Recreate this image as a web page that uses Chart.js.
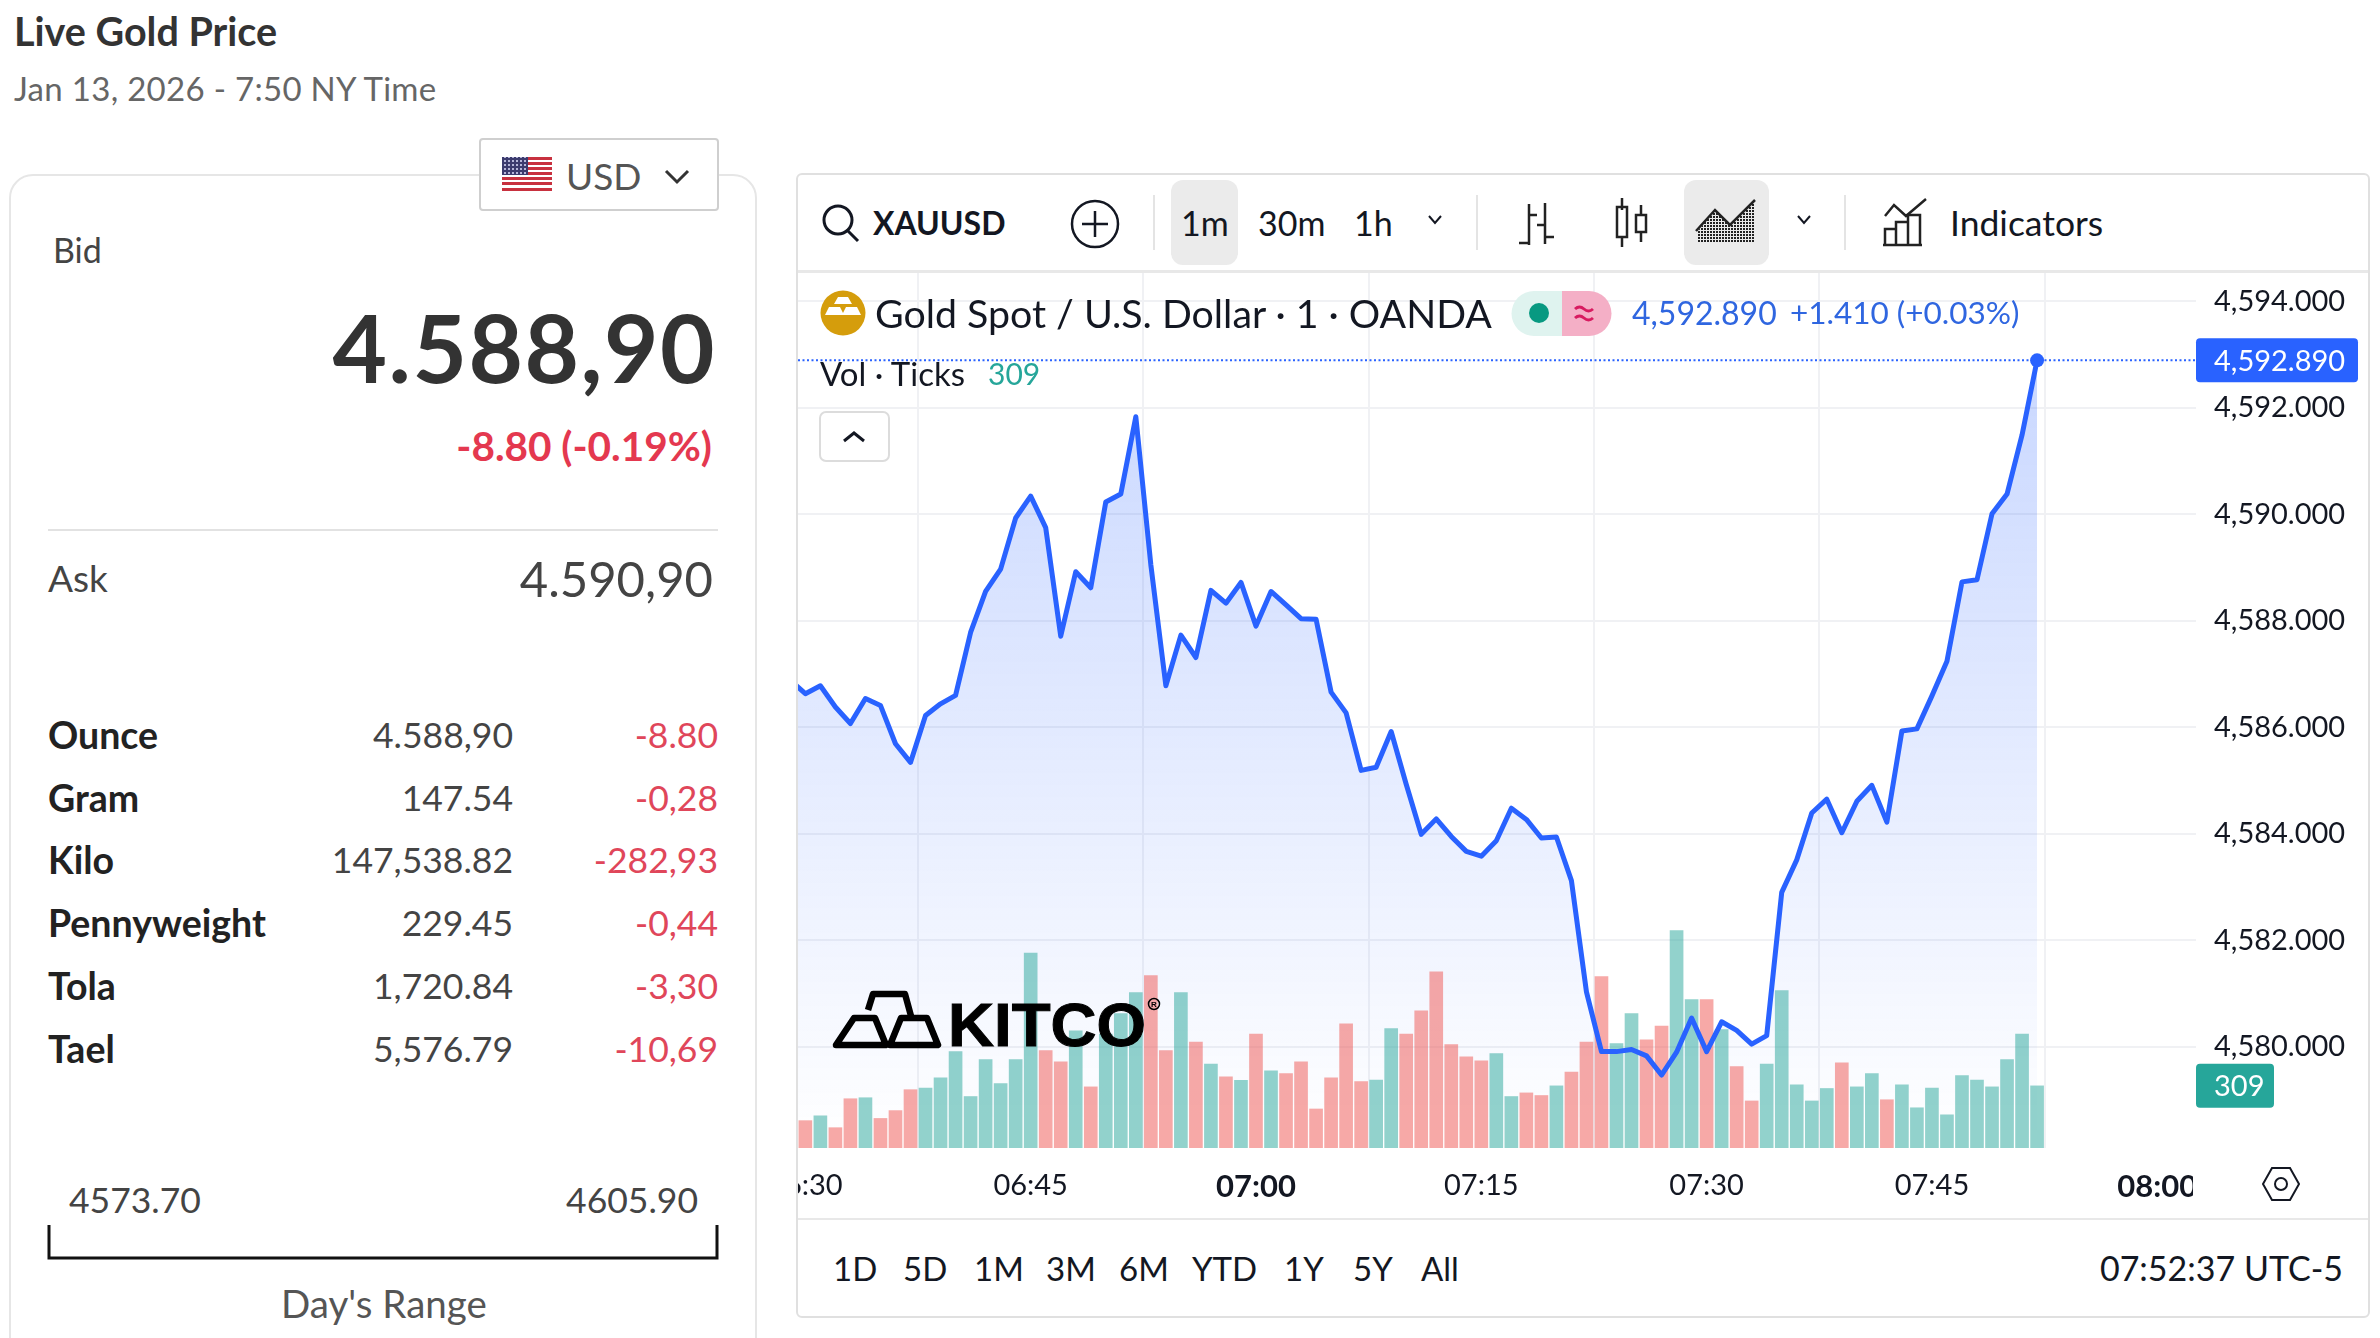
<!DOCTYPE html>
<html>
<head>
<meta charset="utf-8">
<title>Live Gold Price</title>
<script src="https://cdn.jsdelivr.net/npm/chart.js@4"></script>
<style>
  html, body { margin: 0; padding: 0; background: #fff; }
  body { width: 2380px; height: 1338px; position: relative; overflow: hidden; font-family: Lato, sans-serif; }
  .t { position: absolute; transform: translateY(-50%); white-space: nowrap; line-height: 1; }
  .r { transform: translate(-100%, -50%); }
  .box { position: absolute; box-sizing: border-box; }
  svg { position: absolute; overflow: visible; }
  #chart { position: absolute; left: 798px; top: 273px; }
</style>
</head>
<body>
<div class="box" style="left:9px;top:174px;width:748px;height:1200px;border:2px solid #e6e6e6;border-radius:24px"></div>
<div class="box" style="left:796px;top:173px;width:1574px;height:1145px;border:2px solid #e0e0e0;border-radius:6px"></div>
<div class="box" style="left:798px;top:270px;width:1570px;height:3px;background:#e8e8e8"></div>
<div class="box" style="left:798px;top:1218px;width:1570px;height:2px;background:#e8e8e8"></div>
<canvas id="chart" width="1570" height="945"></canvas>
<div class="box" style="left:2193px;top:1152px;width:174px;height:64px;background:#fff"></div>
<div id="page"></div>

<svg style="left:0;top:0" width="2380" height="1338" fill="none">
  <defs>
    <pattern id="hatch" width="3" height="3" patternUnits="userSpaceOnUse"><rect width="2" height="2" fill="#222"/></pattern>
    <pattern id="stars" width="4" height="4" patternUnits="userSpaceOnUse"><rect width="4" height="4" fill="#3c3b6e"/><rect width="2" height="2" fill="#b5b5d8"/></pattern>
  </defs>
  <!-- flag -->
  <rect x="502" y="157" width="50" height="34" fill="#fff"/>
  <g fill="#c8313f">
    <rect x="502" y="157" width="50" height="3"/><rect x="502" y="162" width="50" height="3"/><rect x="502" y="167" width="50" height="3"/>
    <rect x="502" y="172" width="50" height="3"/><rect x="502" y="177" width="50" height="3"/><rect x="502" y="182" width="50" height="3"/><rect x="502" y="188" width="50" height="3"/>
  </g>
  <rect x="502" y="157" width="26" height="18" fill="url(#stars)"/>
  <path d="M666 171l11 11 11-11" stroke="#333" stroke-width="3"/>
  <!-- day's range bracket -->
  <path d="M49 1225v33h668v-33" stroke="#111" stroke-width="3"/>
  <!-- toolbar icons -->
  <circle cx="838" cy="220" r="14" stroke="#131722" stroke-width="3"/><path d="M848 231l10 10" stroke="#131722" stroke-width="3"/>
  <circle cx="1095" cy="224" r="23" stroke="#131722" stroke-width="2.500"/><path d="M1095 211v26M1082 224h26" stroke="#131722" stroke-width="2.500"/>
  <path d="M1154 195v55M1477 195v55M1845 195v55" stroke="#e4e4e4" stroke-width="2"/>
  <path d="M1429 216l6 7 6-7M1798 216l6 7 6-7" stroke="#131722" stroke-width="2"/>
  <path d="M1529 204v41M1519 243h10M1529 215h8M1545 203v41M1545 225h-8M1545 237h9" stroke="#222" stroke-width="2.500"/>
  <path d="M1622 198v12M1622 236v11M1641 205v10M1641 232v10" stroke="#222" stroke-width="2.500"/>
  <rect x="1617" y="207" width="10" height="30" stroke="#222" stroke-width="2.500"/><rect x="1636" y="215" width="10" height="17" stroke="#222" stroke-width="2.500"/>
  <path d="M1697 232l18-22 15 15 24-24v42h-57z" fill="url(#hatch)"/><path d="M1696 231l19-21 15 15 25-25" stroke="#222" stroke-width="2.500"/>
  <path d="M1885 216l9-11 12 11 20-17" stroke="#222" stroke-width="2.500"/>
  <path d="M1885 244v-15h11v15M1896 244v-22h12v22M1908 244v-29h12v29M1883 245h39" stroke="#222" stroke-width="2.500"/>
  <!-- legend -->
  <circle cx="843" cy="313" r="22.500" fill="#d59d0c"/>
  <path d="M838 297h10l4 7h-18zM829 307h11l4 8h-19zM846 307h11l4 8h-19z" fill="#fff"/>
  <path d="M1562 291h-28a22.500 22.500 0 0 0 0 45h28z" fill="#dff3ef"/>
  <path d="M1562 291h27a22.500 22.500 0 0 1 0 45h-27z" fill="#f4afc6"/>
  <circle cx="1539" cy="313" r="10" fill="#089981"/>
  <path d="M1575 309q4.500-4 9 0t9 0M1575 318q4.500-4 9 0t9 0" stroke="#d81b60" stroke-width="3"/>
  <rect x="820" y="412" width="69" height="49" rx="6" fill="#fff" stroke="#dcdcdc" stroke-width="2"/>
  <path d="M844 441l10-8 10 8" stroke="#131722" stroke-width="3"/>
  <!-- settings hexagon -->
  <path d="M2272 1168h18l9 16-9 16h-18l-9-16z" stroke="#131722" stroke-width="2"/><circle cx="2281" cy="1184" r="6" stroke="#131722" stroke-width="2"/>
  <!-- kitco logo -->
  <g stroke="#000" stroke-width="6.500" stroke-linejoin="round">
    <path d="M836 1045l18-27h21l11 27z"/>
    <path d="M868 1010l5-16h32l6 22"/>
    <path d="M890 1045l11-27h26l11 27z"/>
  </g>
  <text x="948" y="1046" font-family="Liberation Sans" font-weight="700" font-size="62" fill="#000" textLength="198" lengthAdjust="spacingAndGlyphs" stroke="#000" stroke-width="1">KITCO</text>
  <circle cx="1154" cy="1004" r="5.500" stroke="#000" stroke-width="1.500"/>
  <text x="1154" y="1007" font-family="Liberation Sans" font-size="8" font-weight="700" fill="#000" text-anchor="middle">R</text>
</svg>

<script>
// minute bars, New York time
const times = [
  '06:29','06:30','06:31','06:32','06:33','06:34','06:35','06:36','06:37','06:38','06:39','06:40','06:41','06:42','06:43','06:44',
  '06:45','06:46','06:47','06:48','06:49','06:50','06:51','06:52','06:53','06:54','06:55','06:56','06:57','06:58','06:59',
  '07:00','07:01','07:02','07:03','07:04','07:05','07:06','07:07','07:08','07:09','07:10','07:11','07:12','07:13','07:14',
  '07:15','07:16','07:17','07:18','07:19','07:20','07:21','07:22','07:23','07:24','07:25','07:26','07:27','07:28','07:29',
  '07:30','07:31','07:32','07:33','07:34','07:35','07:36','07:37','07:38','07:39','07:40','07:41','07:42','07:43','07:44',
  '07:45','07:46','07:47','07:48','07:49','07:50','07:51','07:52'
];
const prices = [
  4586.88,4586.63,4586.78,4586.38,4586.07,4586.54,4586.41,4585.69,4585.34,4586.22,4586.44,4586.60,4587.78,4588.55,4588.97,4589.93,
  4590.34,4589.75,4587.71,4588.92,4588.62,4590.23,4590.38,4591.83,4589.05,4586.78,4587.73,4587.31,4588.57,4588.33,4588.72,
  4587.90,4588.55,4588.30,4588.04,4588.03,4586.66,4586.27,4585.19,4585.25,4585.92,4584.93,4583.99,4584.28,4583.95,4583.67,
  4583.58,4583.87,4584.48,4584.27,4583.92,4583.94,4583.12,4581.03,4579.91,4579.91,4579.95,4579.83,4579.47,4579.90,4580.54,
  4579.91,4580.47,4580.31,4580.05,4580.21,4582.90,4583.51,4584.39,4584.65,4584.02,4584.61,4584.91,4584.22,4585.93,4585.97,
  4586.59,4587.24,4588.73,4588.77,4590.01,4590.38,4591.49,4592.89
];
const volumes = [
  null,136,160,101,245,250,147,186,290,298,349,480,256,440,320,440,
  970,485,429,583,304,567,669,773,858,485,773,527,418,354,336,
  567,384,370,429,194,349,618,330,338,594,567,682,876,514,453,
  434,469,256,274,261,309,378,527,852,519,669,538,607,1082,738,
  738,589,405,234,418,783,314,234,296,424,304,370,240,314,200,
  298,165,360,338,304,440,567,309
];
// 1 = up bar, 0 = down bar
const volumeUp = [
  0,0,1,0,0,1,0,0,0,1,1,1,1,1,1,1,
  1,0,0,1,0,1,1,1,0,0,1,0,1,0,1,
  0,1,0,0,0,0,0,0,1,1,0,0,0,0,0,
  0,1,1,0,0,1,0,0,0,1,1,0,0,1,1,
  0,1,0,0,1,1,1,1,1,0,1,1,0,1,1,
  1,1,1,1,1,1,1,1
];
const priceTicksStep = 2;
const timeTicksStep = 15;
const lastPrice = 4592.89;
const lastVolume = 309;

const unitNames = ['Ounce', 'Gram', 'Kilo', 'Pennyweight', 'Tola', 'Tael'];
const unitPrices = ['4.588,90', '147.54', '147,538.82', '229.45', '1,720.84', '5,576.79'];
const unitChanges = ['-8.80', '-0,28', '-282,93', '-0,44', '-3,30', '-10,69'];
const rangeButtons = [['1D', 833], ['5D', 903], ['1M', 974], ['3M', 1046], ['6M', 1119], ['YTD', 1192], ['1Y', 1284], ['5Y', 1353], ['All', 1421]];

const page = document.getElementById('page');

function text(str, x, y, size, color, opts = {}) {
  const el = document.createElement('div');
  el.className = 't' + (opts.right ? ' r' : '');
  el.textContent = str;
  el.style.left = x + 'px';
  el.style.top = y + 'px';
  el.style.fontSize = size + 'px';
  el.style.color = color;
  if (opts.bold) el.style.fontWeight = opts.bold;
  if (opts.spacing) el.style.letterSpacing = opts.spacing + 'px';
  page.appendChild(el);
}

function box(x, y, w, h, css) {
  const el = document.createElement('div');
  el.className = 'box';
  el.style.cssText = `left:${x}px;top:${y}px;width:${w}px;height:${h}px;${css}`;
  page.appendChild(el);
}

// left panel
box(479, 138, 240, 73, 'border:2px solid #cfcfcf;border-radius:4px;background:#fff');
box(48, 529, 670, 2, 'background:#e2e2e2');
text('Live Gold Price', 14, 31, 39.5, '#333', { bold: 700 });
text('Jan 13, 2026 - 7:50 NY Time', 14, 88, 33, '#666', { spacing: 0.3 });
text('USD', 566, 175, 37, '#555');
text('Bid', 53, 250, 34, '#444');
text('4.588,90', 716, 347, 94, '#333', { right: true, bold: 700, spacing: 1.500 });
text('-8.80 (-0.19%)', 712, 446, 40.500, '#e4384f', { right: true, bold: 700 });
text('Ask', 48, 577, 37, '#444');
text('4.590,90', 713, 578, 49, '#444', { right: true });
unitNames.forEach((name, i) => {
  const y = 735 + i * 62.7;
  text(name, 48, y, 37.500, '#222', { bold: 700 });
  text(unitPrices[i], 513, y, 35.500, '#444', { right: true });
  text(unitChanges[i], 718, y, 35.500, '#e0465a', { right: true });
});
text('4573.70', 69, 1200, 35.500, '#444');
text('4605.90', 698, 1200, 35.500, '#444', { right: true });
text("Day's Range", 281, 1303, 38.500, '#555');

// chart toolbar and legend
box(1171, 180, 67, 85, 'background:#ebebeb;border-radius:12px');
box(1684, 180, 85, 85, 'background:#ebebeb;border-radius:12px');
const tvFont = 'Lato, sans-serif';
text('XAUUSD', 873, 223, 32, '#131722', { bold: 700 });
text('1m', 1181, 223, 34, '#131722');
text('30m', 1258, 223, 34, '#131722');
text('1h', 1354, 223, 34, '#131722');
text('Indicators', 1950, 223, 35.500, '#131722');
text('Gold Spot / U.S. Dollar · 1 · OANDA', 875, 313, 39.300, '#131722');
text('4,592.890', 1632, 313, 32, '#2f66e0');
text('+1.410 (+0.03%)', 1790, 313, 31.500, '#2f66e0');
text('Vol · Ticks', 820, 373, 33, '#131722');
text('309', 988, 373, 30, '#26a69a');
rangeButtons.forEach(([label, x]) => text(label, x, 1268, 33, '#131722'));
text('07:52:37 UTC-5', 2343, 1268, 34, '#131722', { right: true });

function toMinutes(label) {
  const [h, m] = label.split(':').map(Number);
  return h * 60 + m;
}

function minutesLabel(value) {
  const h = Math.floor(value / 60);
  const m = value % 60;
  return String(h).padStart(2, '0') + ':' + String(m).padStart(2, '0');
}

const priceFmt = new Intl.NumberFormat('en-US', { minimumFractionDigits: 3, maximumFractionDigits: 3 });

// last price line and the two value tags on the axis
const lastValueTags = {
  id: 'lastValueTags',
  beforeDatasetsDraw(chart) {
    const { ctx, chartArea, scales } = chart;
    const y = scales.y.getPixelForValue(lastPrice);
    ctx.save();
    ctx.strokeStyle = '#2962ff';
    ctx.lineWidth = 2;
    ctx.setLineDash([2, 2.500]);
    ctx.beginPath();
    ctx.moveTo(chartArea.left, y);
    ctx.lineTo(chartArea.right, y);
    ctx.stroke();
    ctx.restore();
  },
  afterDraw(chart) {
    const { ctx, chartArea, scales } = chart;
    const tag = (label, y, w, color) => {
      ctx.fillStyle = color;
      ctx.beginPath();
      ctx.roundRect(chartArea.right, y - 22, w, 44, 4);
      ctx.fill();
      ctx.fillStyle = '#fff';
      ctx.font = '29px Lato';
      ctx.textBaseline = 'middle';
      ctx.textAlign = 'left';
      ctx.fillText(label, chartArea.right + 18, y + 1);
    };
    tag(priceFmt.format(lastPrice), scales.y.getPixelForValue(lastPrice), 162, '#2962ff');
    tag(String(lastVolume), scales.volume.getPixelForValue(lastVolume), 78, '#26a69a');
  }
};

new Chart(document.getElementById('chart').getContext('2d'), {
  data: {
    labels: times.map(toMinutes),
    datasets: [
      {
        type: 'line',
        data: prices,
        yAxisID: 'y',
        order: 1,
        borderColor: '#2962ff',
        borderWidth: 5,
        borderJoinStyle: 'round',
        tension: 0,
        fill: 'start',
        backgroundColor(context) {
          const { chartArea, scales } = context.chart;
          if (!chartArea) return 'transparent';
          const top = scales.y.getPixelForValue(lastPrice);
          const g = context.chart.ctx.createLinearGradient(0, top, 0, chartArea.bottom);
          g.addColorStop(0, 'rgba(41,98,255,0.25)');
          g.addColorStop(1, 'rgba(41,98,255,0)');
          return g;
        },
        pointRadius: ctx => (ctx.dataIndex === prices.length - 1 ? 7 : 0),
        pointBackgroundColor: '#2962ff',
        pointBorderWidth: 0
      },
      {
        type: 'bar',
        data: volumes,
        yAxisID: 'volume',
        order: 2,
        barThickness: 13,
        backgroundColor: ctx => (volumeUp[ctx.dataIndex] ? 'rgba(38,166,154,0.5)' : 'rgba(239,83,80,0.5)')
      }
    ]
  },
  plugins: [lastValueTags],
  options: {
    responsive: false,
    animation: false,
    layout: { padding: 0, autoPadding: false },
    plugins: {
      legend: { display: false },
      tooltip: { enabled: false },
      filler: { drawTime: 'beforeDatasetsDraw' }
    },
    scales: {
      x: {
        type: 'linear',
        offset: false,
        min: 389.51,
        max: 482.58,
        afterFit(scale) {
          scale.height = 70;
          scale.paddingLeft = 0;
          scale.paddingRight = 0;
        },
        border: { display: false },
        grid: { color: '#f0f1f4', lineWidth: 2, drawTicks: false },
        ticks: {
          stepSize: timeTicksStep,
          includeBounds: false,
          autoSkip: false,
          maxRotation: 0,
          padding: 20,
          color: '#131722',
          font: ctx => {
            const hour = ctx.tick && ctx.tick.value % 60 === 0;
            return { family: tvFont, size: hour ? 31 : 29, weight: hour ? 700 : 400 };
          },
          callback: value => minutesLabel(value)
        }
      },
      y: {
        position: 'right',
        min: 4578.10,
        max: 4594.53,
        afterFit(scale) {
          scale.width = 172;
          scale.paddingTop = 0;
          scale.paddingBottom = 0;
        },
        border: { display: false },
        grid: { color: '#f0f1f4', lineWidth: 2, drawTicks: false },
        ticks: {
          stepSize: priceTicksStep,
          includeBounds: false,
          padding: 18,
          color: '#131722',
          font: { family: tvFont, size: 29 },
          callback: value => priceFmt.format(value)
        }
      },
      volume: { display: false, min: 0, max: 4352 }
    }
  }
});
</script>
</body>
</html>
